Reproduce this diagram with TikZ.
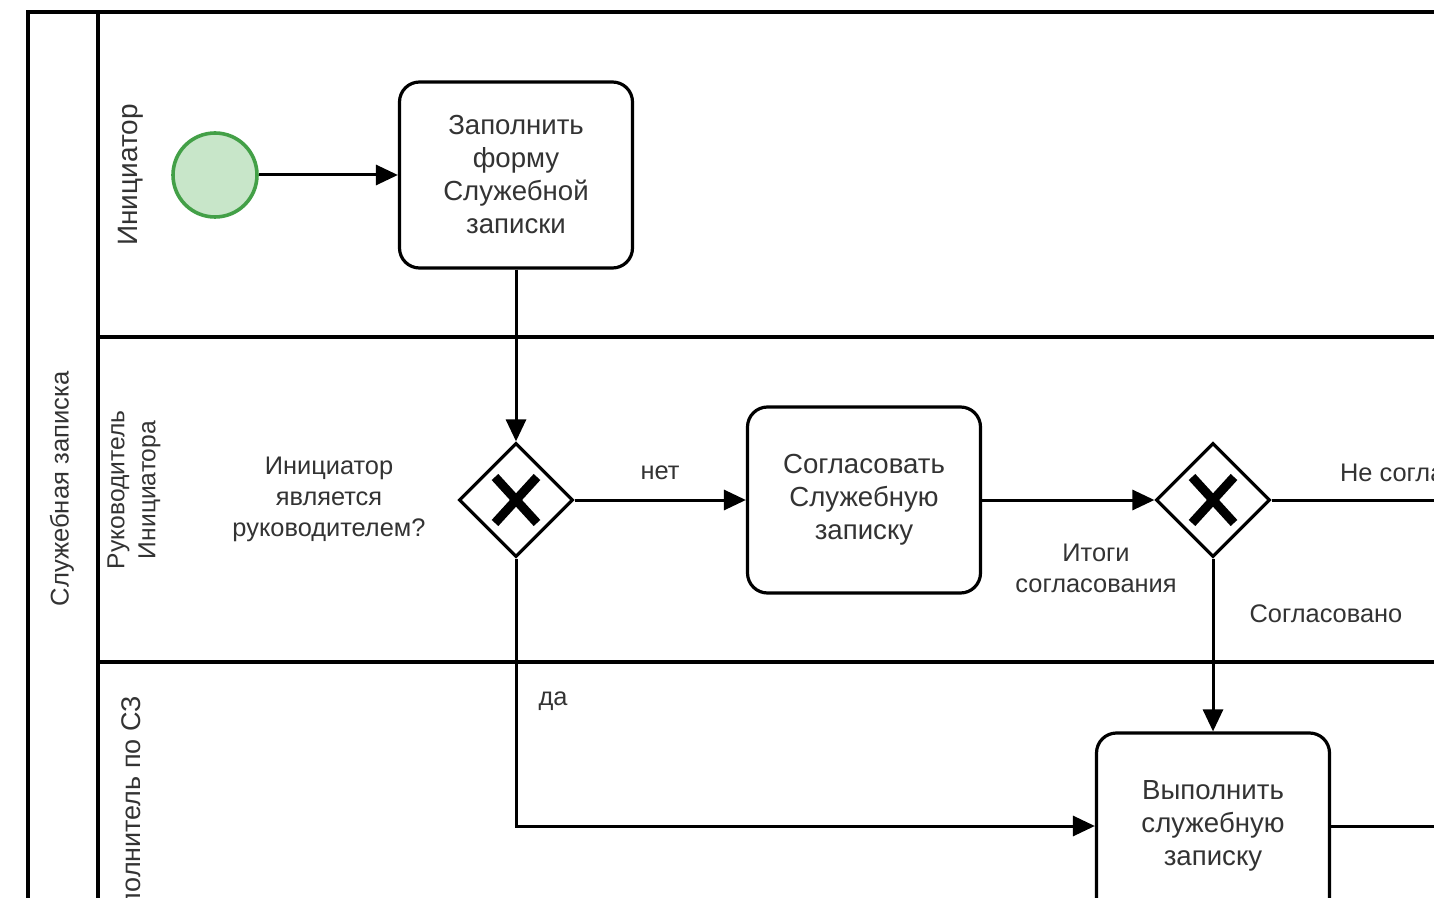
\documentclass[tikz,border=0pt]{standalone}
\usepackage{fontspec}
\setmainfont{Liberation Sans}
\usetikzlibrary{shapes.geometric,arrows.meta}
\definecolor{txt}{HTML}{333333}
\definecolor{evfill}{HTML}{C8E6C9}
\definecolor{evdraw}{HTML}{43A047}
\tikzset{
  lane/.style={line width=2pt,draw=black},
  task/.style={draw=black,line width=1.6pt,rounded corners=10pt,minimum width=116.5pt,minimum height=93pt,align=center,font=\fontsize{13.8}{16.5}\selectfont,text=txt,fill=white},
  gate/.style={draw=black,line width=1.6pt,diamond,aspect=1,minimum width=57pt,minimum height=57pt,inner sep=0pt,fill=white},
  flow/.style={line width=1.5pt,-{Triangle[length=11pt,width=10pt]}},
  plain/.style={line width=1.5pt},
  lbl/.style={align=center,font=\fontsize{12.7}{15.5}\selectfont,text=txt},
  lanelbl/.style={align=center,font=\fontsize{12.8}{15.5}\selectfont,text=txt,rotate=90},
  xmark/.style={line width=4.5pt}
}
\begin{document}
\begin{tikzpicture}[x=0.5pt,y=-0.5pt]
\useasboundingbox (0,0) rectangle (1434,898);
\fill[white] (0,0) rectangle (1434,898);
\clip (0,0) rectangle (1434,898);
% pool and lanes
\draw[lane] (28,940) -- (28,12) -- (1460,12);
\draw[lane] (98,12) -- (98,940);
\draw[lane] (98,337) -- (1460,337);
\draw[lane] (98,662) -- (1460,662);
\node[lanelbl] (pool) at (62,489) {Служебная записка};
\node[lanelbl,font=\fontsize{14}{16}\selectfont] (l1) at (131,175) {Инициатор};
\node[lanelbl,font=\fontsize{12.3}{15.5}\selectfont] (l2) at (134,490) {Руководитель\\Инициатора};
\node[lanelbl,font=\fontsize{13.5}{16}\selectfont] (l3) at (131,818) {Исполнитель по СЗ};
% nodes
\node[circle,draw=evdraw,fill=evfill,line width=1.8pt,minimum size=42pt,inner sep=0pt] (start) at (215,175) {};
\node[task] (t1) at (516,175) {Заполнить\\форму\\Служебной\\записки};
\node[gate] (g1) at (516,500) {};
\node[task] (t2) at (864,500) {Согласовать\\Служебную\\записку};
\node[gate] (g2) at (1213,500) {};
\node[task] (t3) at (1213,826) {Выполнить\\служебную\\записку};
\coordinate (o1) at (1460,500);
\coordinate (o2) at (1460,826);
% X marks
\foreach \g in {g1,g2}{
  \draw[xmark] ([shift={(-21,-23)}]\g.center) -- ([shift={(21,23)}]\g.center);
  \draw[xmark] ([shift={(21,-23)}]\g.center) -- ([shift={(-21,23)}]\g.center);
}
% flows
\draw[flow] (start) -- (t1);
\draw[flow] (t1) -- (g1);
\draw[flow] (g1) -- (t2);
\draw[flow] (t2) -- (g2);
\draw[plain] (g2.east) -- (o1);
\draw[flow] (g2.south) -- (t3.north);
\draw[flow] (g1.south) |- (t3.west);
\draw[plain] (t3.east) -- (o2);
% labels
\node[lbl] (q) at (329,499) {Инициатор\\является\\руководителем?};
\node[lbl] (no) at (660,473) {нет};
\node[lbl] (res) at (1096,568) {Итоги\\согласования};
\node[lbl,anchor=west] (ns) at (1333,473) {Не согласовано};
\node[lbl] (ok) at (1326,614) {Согласовано};
\node[lbl] (yes) at (553,701) {да};
\end{tikzpicture}
\end{document}
